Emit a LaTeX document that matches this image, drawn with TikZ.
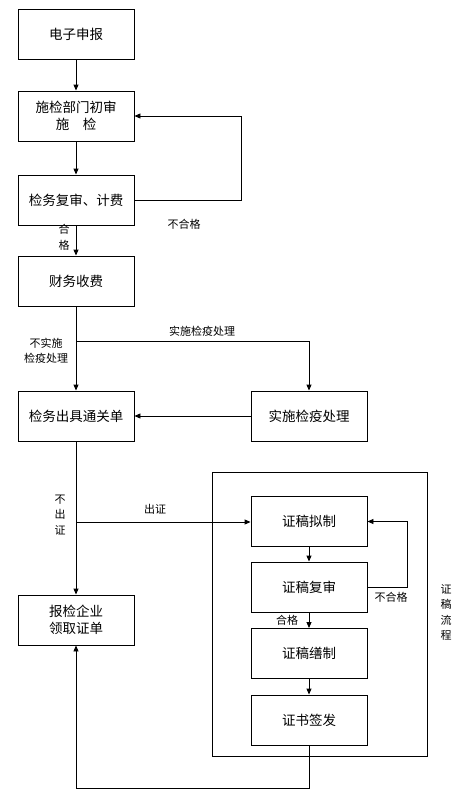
\documentclass[tikz,border=0pt]{standalone}
\usepackage{fontspec}
\setmainfont{Noto Sans CJK SC}
\usetikzlibrary{arrows.meta}
\begin{document}
\begin{tikzpicture}[x=1pt,y=-1pt,
  box/.style={draw,line width=0.9pt,minimum width=116pt,minimum height=50pt,inner sep=0pt,align=center,font=\fontsize{13.5}{17}\selectfont},
  lbl/.style={inner sep=0pt,align=center,font=\fontsize{11}{15}\selectfont},
  vlbl/.style={inner sep=0pt,align=center,font=\fontsize{11}{15.5}\selectfont},
  arr/.style={line width=0.9pt,-{Triangle[length=6pt,width=5pt]}},
  ln/.style={line width=0.9pt}]
\useasboundingbox (0,0) rectangle (462,798);
\fill[white] (0,0) rectangle (462,798);
% main column
\node[box] (b1) at (76,34) {电子申报};
\node[box] (b2) at (76,116) {施检部门初审\\施　检};
\node[box] (b3) at (76,200) {检务复审、计费};
\node[box] (b4) at (76,281) {财务收费};
\node[box] (b5) at (76,416) {检务出具通关单};
\node[box] (b6) at (309,416) {实施检疫处理};
\node[box] (bE) at (76,620) {报检企业\\领取证单};
% container
\node[draw,line width=0.9pt,minimum width=215pt,minimum height=284pt,inner sep=0pt] (cont) at (319.5,614) {};
\node[box] (cA) at (309,521.5) {证稿拟制};
\node[box] (cB) at (309,587) {证稿复审};
\node[box] (cC) at (309,653.5) {证稿缮制};
\node[box] (cD) at (309,720) {证书签发};
% coordinates
\coordinate (j1) at (b4.south |- 0,341);
\coordinate (j2) at (b5.south |- 0,522);
\coordinate (r1) at (241,200);
\coordinate (r2) at (407,587);
\coordinate (bot) at (309,788);
% connectors
\draw[arr] (b1) -- (b2);
\draw[arr] (b2) -- (b3);
\draw[arr] (b3) -- (b4);
\draw[arr] (b3.east) -- (r1) |- (b2.east);
\draw[arr] (b4) -- (b5);
\draw[arr] (j1) -| (b6.north);
\draw[arr] (b6.west) -- (b5.east);
\draw[arr] (b5) -- (bE);
\draw[arr] (j2) -- (cA.west |- j2);
\draw[arr] (cA) -- (cB);
\draw[arr] (cB) -- (cC);
\draw[arr] (cC) -- (cD);
\draw[arr] (cB.east) -- (r2) |- (cA.east);
\draw[arr] (cD.south) -- (bot) -| (bE.south);
% labels
\node[lbl] (l1) at (184,224) {不合格};
\node[vlbl] (l2) at (64,237.5) {合\\格};
\node[lbl] (l3) at (202,331) {实施检疫处理};
\node[lbl] (l4) at (46,351) {不实施\\检疫处理};
\node[vlbl] (l5) at (60,515) {不\\出\\证};
\node[lbl] (l6) at (155,509) {出证};
\node[lbl] (l7) at (391,597) {不合格};
\node[lbl] (l8) at (287,620) {合格};
\node[vlbl] (l9) at (446,612.5) {证\\稿\\流\\程};
\end{tikzpicture}
\end{document}
